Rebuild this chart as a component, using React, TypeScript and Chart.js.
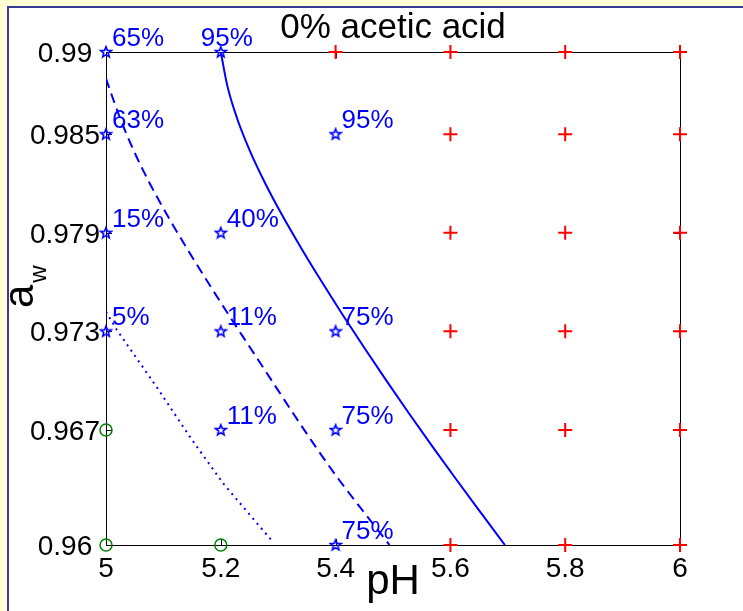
import React, { useEffect, useRef } from "react";
import { Chart, registerables } from "chart.js";

Chart.register(...registerables);

const phTicks = [5, 5.2, 5.4, 5.6, 5.8, 6];
const awTicks = [0.96, 0.967, 0.973, 0.979, 0.985, 0.99];

const solidPH = [5.2, 5.211, 5.228, 5.2505, 5.2775, 5.308, 5.3412, 5.3762, 5.4125, 5.45, 5.4885, 5.528, 5.5685, 5.61, 5.6523, 5.695];
const solidAw = [0.99, 0.988, 0.986, 0.984, 0.982, 0.98, 0.978, 0.976, 0.974, 0.972, 0.97, 0.968, 0.966, 0.964, 0.962, 0.96];

const dashPH = [5.0, 5.0038, 5.0243, 5.0483, 5.0763, 5.1078, 5.1418, 5.1773, 5.2138, 5.2513, 5.2888, 5.3263, 5.3648, 5.4053, 5.4493, 5.494];
const dashAw = [0.9884, 0.988, 0.986, 0.984, 0.982, 0.98, 0.978, 0.976, 0.974, 0.972, 0.97, 0.968, 0.966, 0.964, 0.962, 0.96];

const dotPH = [5.0, 5.019, 5.088, 5.146, 5.204, 5.288];
const dotAw = [0.9742, 0.97308, 0.96963, 0.96659, 0.96375, 0.9603];

const starPH = [5, 5.2, 5, 5, 5.2, 5, 5.2, 5.4, 5.2, 5.4, 5.4, 5.4];
const starAw = [0.99, 0.99, 0.985, 0.979, 0.979, 0.973, 0.973, 0.973, 0.967, 0.967, 0.985, 0.96];
const starLabels = ["65%", "95%", "63%", "15%", "40%", "5%", "11%", "75%", "11%", "75%", "95%", "75%"];

const circlePH = [5, 5, 5.2];
const circleAw = [0.967, 0.96, 0.96];

const plusPH = [5.4, 5.6, 5.6, 5.6, 5.6, 5.6, 5.6, 5.8, 5.8, 5.8, 5.8, 5.8, 5.8, 6, 6, 6, 6, 6, 6];
const plusAw = [0.99, 0.99, 0.985, 0.979, 0.973, 0.967, 0.96, 0.99, 0.985, 0.979, 0.973, 0.967, 0.96, 0.99, 0.985, 0.979, 0.973, 0.967, 0.96];

const titleText = "0% acetic acid";
const xLabel = "pH";
const yLabelMain = "a";
const yLabelSub = "w";

const FONT = "'Liberation Sans', Arial, Helvetica, sans-serif";

function zip(xs: number[], ys: number[]) {
  return xs.map((x, i) => ({ x, y: ys[i] }));
}

function makePentagram(): HTMLCanvasElement {
  const c = document.createElement("canvas");
  c.width = 14;
  c.height = 14;
  const ctx = c.getContext("2d")!;
  const cx = 7, cy = 7.3, R = 5.6, r = 2.4;
  ctx.beginPath();
  for (let i = 0; i < 10; i++) {
    const ang = -Math.PI / 2 + (i * Math.PI) / 5;
    const rad = i % 2 === 0 ? R : r;
    const px = cx + rad * Math.cos(ang);
    const py = cy + rad * Math.sin(ang);
    if (i === 0) ctx.moveTo(px, py);
    else ctx.lineTo(px, py);
  }
  ctx.closePath();
  ctx.strokeStyle = "#0000ff";
  ctx.lineWidth = 1.6;
  ctx.stroke();
  return c;
}

const framePlugin = {
  id: "framePlugin",
  beforeDraw(chart: any) {
    const { ctx, width, height } = chart;
    ctx.save();
    ctx.fillStyle = "rgb(255,255,212)";
    ctx.fillRect(0, 0, width, height);
    ctx.fillStyle = "#ffffff";
    ctx.fillRect(8, 7, width - 8, height - 7);
    ctx.strokeStyle = "rgb(56,56,150)";
    ctx.lineWidth = 2;
    ctx.beginPath();
    ctx.moveTo(8, height);
    ctx.lineTo(8, 7);
    ctx.lineTo(width, 7);
    ctx.stroke();
    ctx.restore();
  },
  beforeDatasetsDraw(chart: any) {
    const { ctx, chartArea } = chart;
    const xs = chart.scales.x;
    const ys = chart.scales.y;
    const { left, right, top, bottom } = chartArea;
    ctx.save();
    ctx.strokeStyle = "#000000";
    ctx.lineWidth = 1;
    ctx.strokeRect(Math.round(left) + 0.5, Math.round(top) + 0.5, Math.round(right - left), Math.round(bottom - top));
    const tl = 6;
    ctx.beginPath();
    phTicks.forEach((v) => {
      const px = Math.round(xs.getPixelForValue(v)) + 0.5;
      ctx.moveTo(px, bottom);
      ctx.lineTo(px, bottom - tl);
      ctx.moveTo(px, top);
      ctx.lineTo(px, top + tl);
    });
    awTicks.forEach((v) => {
      const py = Math.round(ys.getPixelForValue(v)) + 0.5;
      ctx.moveTo(left, py);
      ctx.lineTo(left + tl, py);
      ctx.moveTo(right, py);
      ctx.lineTo(right - tl, py);
    });
    ctx.stroke();

    // tick labels
    ctx.fillStyle = "#000000";
    ctx.font = `28px ${FONT}`;
    ctx.textBaseline = "alphabetic";
    ctx.textAlign = "center";
    phTicks.forEach((v) => {
      const px = xs.getPixelForValue(v);
      ctx.fillText(String(v), px, bottom + 32);
    });
    ctx.textAlign = "right";
    awTicks.forEach((v) => {
      const py = ys.getPixelForValue(v);
      let s = String(v);
      while (s.length < 5) s += " ";
      ctx.fillText(s, left - 6, py + 10);
    });

    // title
    ctx.textAlign = "center";
    ctx.font = `35px ${FONT}`;
    ctx.fillText(titleText, (left + right) / 2, 38);

    // x label
    ctx.font = `42px ${FONT}`;
    ctx.fillText(xLabel, (left + right) / 2, 594);

    // y label (rotated, with subscript)
    ctx.save();
    ctx.translate(33, 308);
    ctx.rotate(-Math.PI / 2);
    ctx.textAlign = "left";
    ctx.font = `42px ${FONT}`;
    ctx.fillText(yLabelMain, 0, 0);
    const aw = ctx.measureText(yLabelMain).width;
    ctx.font = `24px ${FONT}`;
    ctx.fillText(yLabelSub, aw + 2, 13);
    ctx.restore();
    ctx.restore();
  },
  afterDatasetsDraw(chart: any) {
    const { ctx } = chart;
    const xs = chart.scales.x;
    const ys = chart.scales.y;
    ctx.save();
    ctx.fillStyle = "#0000ff";
    ctx.font = `26px ${FONT}`;
    ctx.textAlign = "left";
    ctx.textBaseline = "alphabetic";
    starLabels.forEach((lab, i) => {
      const px = xs.getPixelForValue(starPH[i]);
      const py = ys.getPixelForValue(starAw[i]);
      const dx = i === 1 ? -20 : 6;
      ctx.fillText(lab, px + dx, py - 6);
    });
    ctx.restore();
  },
};

export default function App() {
  const ref = useRef<HTMLCanvasElement | null>(null);
  useEffect(() => {
    if (!ref.current) return;
    const star = makePentagram();
    const chart = new Chart(ref.current, {
      type: "scatter",
      data: {
        datasets: [
          {
            type: "line",
            data: zip(solidPH, solidAw),
            borderColor: "#0000ff",
            borderWidth: 2,
            pointRadius: 0,
            cubicInterpolationMode: "monotone",
            fill: false,
          } as any,
          {
            type: "line",
            data: zip(dashPH, dashAw),
            borderColor: "#0000ff",
            borderWidth: 2,
            borderDash: [10, 6],
            pointRadius: 0,
            cubicInterpolationMode: "monotone",
            fill: false,
          } as any,
          {
            type: "line",
            data: zip(dotPH, dotAw),
            borderColor: "#0000ff",
            borderWidth: 2,
            borderDash: [2, 4.5],
            pointRadius: 0,
            tension: 0,
            fill: false,
          } as any,
          {
            data: zip(starPH, starAw),
            pointStyle: star,
            pointRadius: 7,
            clip: false,
          } as any,
          {
            data: zip(circlePH, circleAw),
            pointStyle: "circle",
            pointRadius: 6,
            backgroundColor: "rgba(0,0,0,0)",
            borderColor: "#008000",
            borderWidth: 1.5,
            clip: false,
          } as any,
          {
            data: zip(plusPH, plusAw),
            pointStyle: "cross",
            pointRadius: 7,
            borderColor: "#ff0000",
            borderWidth: 2,
            clip: false,
          } as any,
        ],
      },
      options: {
        animation: false,
        responsive: false,
        maintainAspectRatio: false,
        devicePixelRatio: 1,
        layout: { padding: { left: 106, right: 63, top: 52, bottom: 66 } },
        plugins: {
          legend: { display: false },
          tooltip: { enabled: false },
          title: { display: false },
        },
        events: [],
        scales: {
          x: { type: "linear", min: 5, max: 6, display: false },
          y: { type: "linear", min: 0.96, max: 0.99, display: false },
        },
      },
      plugins: [framePlugin],
    });
    return () => chart.destroy();
  }, []);
  return (
    <div style={{ position: "fixed", left: 0, top: 0, width: 743, height: 611 }}>
      <canvas ref={ref} width={743} height={611} style={{ width: 743, height: 611, display: "block" }} />
    </div>
  );
}
